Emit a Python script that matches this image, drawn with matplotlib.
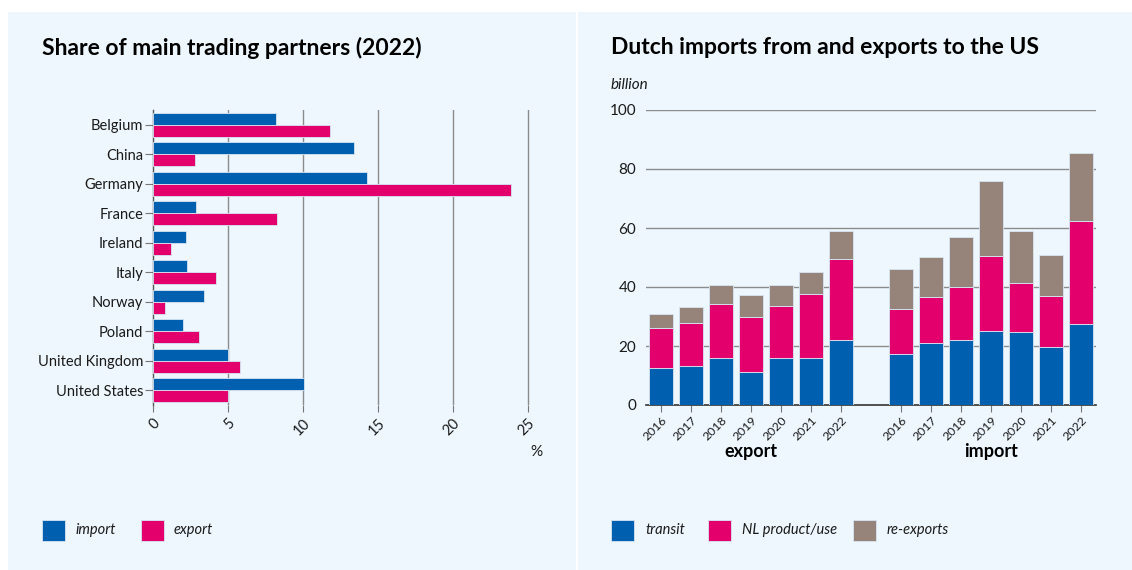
import matplotlib
matplotlib.use("Agg")
import matplotlib.pyplot as plt
from matplotlib.patches import Rectangle
import numpy as np

# ---- data -------------------------------------------------------------
countries = ["Belgium", "China", "Germany", "France", "Ireland", "Italy",
             "Norway", "Poland", "United Kingdom", "United States"]
share_import = [8.2, 13.4, 14.3, 2.9, 2.2, 2.3, 3.4, 2.0, 5.0, 10.1]
share_export = [11.8, 2.8, 23.9, 8.3, 1.2, 4.2, 0.8, 3.1, 5.8, 5.0]
share_ticks = [0, 5, 10, 15, 20, 25]

years = ["2016", "2017", "2018", "2019", "2020", "2021", "2022"]
export_transit = [12.7, 13.2, 16.1, 11.1, 15.9, 15.9, 22.2]
export_nl = [13.5, 14.5, 18.1, 18.8, 17.7, 21.8, 27.3]
export_reexp = [4.6, 5.6, 6.4, 7.4, 7.0, 7.5, 9.5]
import_transit = [17.4, 20.9, 22.2, 25.0, 24.7, 19.5, 27.5]
import_nl = [15.2, 15.6, 17.8, 25.5, 16.8, 17.4, 34.8]
import_reexp = [13.6, 13.7, 17.1, 25.3, 17.4, 14.1, 23.1]
value_ticks = [0, 20, 40, 60, 80, 100]

# ---- style ------------------------------------------------------------
BLUE = "#005FAE"
PINK = "#E3006C"
TAUPE = "#968379"
PANEL = "#EEF7FE"
GRID = "#8C8C8C"
TEXT = "#1A1A1A"
EDGE = "#D6E6F4"
FONT = "Lato"

plt.rcParams["font.family"] = [FONT, "DejaVu Sans"]

W, H = 1132, 570
fig = plt.figure(figsize=(W / 100, H / 100), dpi=100, facecolor="white")


def fx(px):
    return px / W


def fy(py):
    return 1 - py / H


def axes_px(left, top, right, bottom):
    return fig.add_axes([fx(left), fy(bottom), fx(right - left), (bottom - top) / H])


# panel backgrounds (behind everything)
fig.patches.append(Rectangle((fx(8), 0), fx(568), fy(12), transform=fig.transFigure,
                             facecolor=PANEL, edgecolor="none", zorder=-10))
fig.patches.append(Rectangle((fx(578), 0), fx(W - 578), fy(12), transform=fig.transFigure,
                             facecolor=PANEL, edgecolor="none", zorder=-10))

# ---- left: share of main trading partners ----------------------------
ax1 = axes_px(153, 110, 532, 405)
ax1.set_facecolor("none")
y = np.arange(len(countries))
h = 0.4
ax1.barh(y - h / 2, share_import, height=h, color=BLUE, edgecolor=EDGE, linewidth=0.6, zorder=3)
ax1.barh(y + h / 2, share_export, height=h, color=PINK, edgecolor=EDGE, linewidth=0.6, zorder=3)
ax1.set_ylim(len(countries) - 0.5, -0.5)
ax1.set_xlim(0, 25.3)
ax1.set_yticks(y)
ax1.set_yticklabels(countries, fontsize=10.5, color=TEXT)
ax1.set_xticks(share_ticks)
ax1.set_xticklabels([str(t) for t in share_ticks], rotation=45, fontsize=10.5,
                    color=TEXT, ha="right", va="top", rotation_mode="anchor")
for t in share_ticks[1:]:
    ax1.axvline(t, color=GRID, linewidth=1, zorder=1)
for s in ["top", "right", "bottom"]:
    ax1.spines[s].set_visible(False)
ax1.spines["left"].set_color("#555555")
ax1.spines["left"].set_linewidth(1)
ax1.tick_params(axis="y", length=6, color="#777777", width=0.8, pad=1)
ax1.tick_params(axis="x", length=5, color="#777777", width=0.8, pad=3)

fig.text(fx(42), fy(48), "Share of main trading partners (2022)", fontsize=16.5,
         fontweight="bold", color="black", va="center", ha="left")
fig.text(fx(536), fy(452), "%", fontsize=11, color=TEXT, ha="center", va="center")

# legend left
for x0, col, lab in [(42, BLUE, "import"), (141, PINK, "export")]:
    fig.patches.append(Rectangle((fx(x0), fy(541)), fx(23), 21 / H, transform=fig.transFigure,
                                 facecolor=col, edgecolor=EDGE, linewidth=0.6))
    fig.text(fx(x0 + 33), fy(530), lab, fontsize=10.5, style="italic", color=TEXT,
             va="center", ha="left")

# ---- right: Dutch imports from and exports to the US -----------------
ax2 = axes_px(646, 110, 1096, 405)
ax2.set_facecolor("none")
n = len(years)
xe = np.arange(n)
xi = np.arange(n) + n + 1
w = 0.79


def stacked(ax, x, a, b, c):
    a = np.array(a)
    b = np.array(b)
    c = np.array(c)
    ax.bar(x, a, width=w, color=BLUE, edgecolor=EDGE, linewidth=0.6, zorder=3)
    ax.bar(x, b, width=w, bottom=a, color=PINK, edgecolor=EDGE, linewidth=0.6, zorder=3)
    ax.bar(x, c, width=w, bottom=a + b, color=TAUPE, edgecolor=EDGE, linewidth=0.6, zorder=3)


stacked(ax2, xe, export_transit, export_nl, export_reexp)
stacked(ax2, xi, import_transit, import_nl, import_reexp)
ax2.set_xlim(-0.5, 2 * n + 0.5)
ax2.set_ylim(0, 100)
ax2.set_yticks(value_ticks)
ax2.set_yticklabels([str(t) for t in value_ticks], fontsize=11, color=TEXT)
for t in value_ticks[1:]:
    ax2.axhline(t, color=GRID, linewidth=1, zorder=1)
ax2.set_xticks(np.concatenate([xe, xi]))
ax2.set_xticklabels(years + years, rotation=45, ha="right", va="top",
                    rotation_mode="anchor", fontsize=8.8, color=TEXT)
for s in ["top", "right", "left"]:
    ax2.spines[s].set_visible(False)
ax2.spines["bottom"].set_color("#333333")
ax2.spines["bottom"].set_linewidth(1.2)
ax2.tick_params(axis="y", length=0, pad=7)
ax2.tick_params(axis="x", length=5, color="#777777", width=0.8, pad=2)

ax2.text(np.mean(xe), -15.8, "export", fontsize=13, fontweight="bold", ha="center",
         va="center", color="black", transform=ax2.transData)
ax2.text(np.mean(xi), -15.8, "import", fontsize=13, fontweight="bold", ha="center",
         va="center", color="black", transform=ax2.transData)

fig.text(fx(611), fy(48), "Dutch imports from and exports to the US", fontsize=16.5,
         fontweight="bold", color="black", va="center", ha="left")
fig.text(fx(611), fy(85), "billion", fontsize=11, style="italic", color=TEXT,
         va="center", ha="left")

# legend right
for x0, col, lab in [(611, BLUE, "transit"), (708, PINK, "NL product/use"),
                     (853, TAUPE, "re-exports")]:
    fig.patches.append(Rectangle((fx(x0), fy(541)), fx(23), 21 / H, transform=fig.transFigure,
                                 facecolor=col, edgecolor=EDGE, linewidth=0.6))
    fig.text(fx(x0 + 34), fy(530), lab, fontsize=10.5, style="italic", color=TEXT,
             va="center", ha="left")

fig.savefig("out.png", dpi=100, facecolor="white")
